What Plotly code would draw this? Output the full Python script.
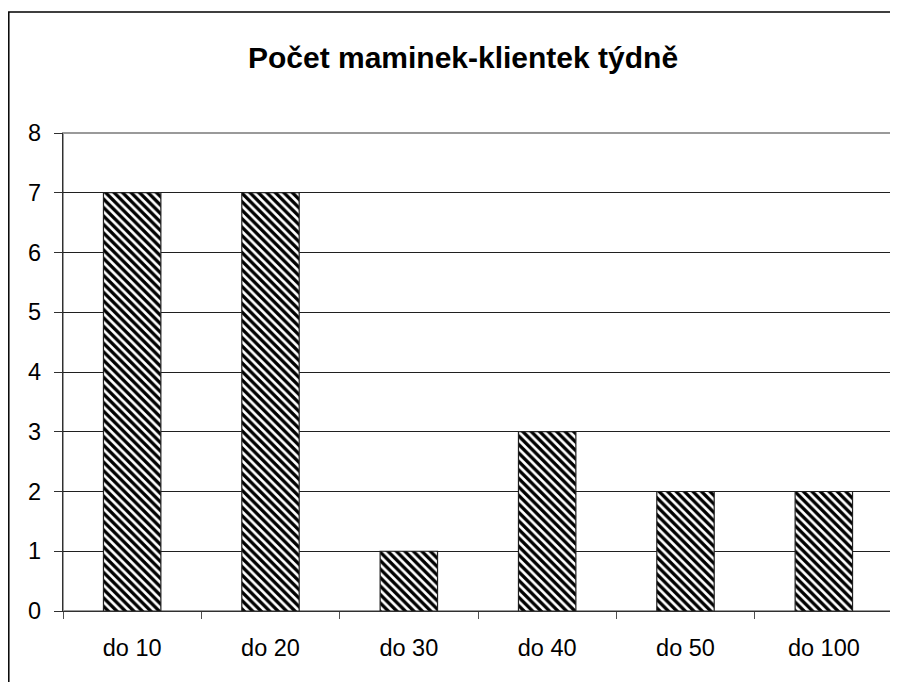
import plotly.graph_objects as go

# weekly client counts per size bracket
categories = ["do 10", "do 20", "do 30", "do 40", "do 50", "do 100"]
counts = [7, 7, 1, 3, 2, 2]
y_ticks = [0, 1, 2, 3, 4, 5, 6, 7, 8]

FONT = "Liberation Sans, Arial, sans-serif"

# page has an 8px body margin, so the figure is drawn 8px in from the corner
W, H = 890, 674
L, R, T, B = 55, 5, 125, 71
PW, PH = W - L - R, H - T - B

fig = go.Figure()

fig.add_bar(
    x=categories,
    y=counts,
    width=0.415,
    marker=dict(
        color="white",
        line=dict(color="#202020", width=1.2),
        pattern=dict(shape="\\", fgcolor="black", bgcolor="white",
                     size=6, solidity=0.55, fgopacity=1),
    ),
)

# plot-area frame (grey) and outer chart border (black)
fig.add_shape(type="rect", xref="paper", yref="paper", x0=0, y0=0, x1=1, y1=1,
              line=dict(color="#9a9a9a", width=2), layer="below")
fig.add_shape(type="rect", xref="paper", yref="paper",
              x0=(0.8 - L) / PW, y0=-0.4,
              x1=1.3, y1=1 + (T - 4) / PH,
              line=dict(color="black", width=1.5))

fig.update_layout(
    width=W,
    height=H,
    margin=dict(l=L, r=R, t=T, b=B),
    paper_bgcolor="white",
    plot_bgcolor="white",
    showlegend=False,
    font=dict(family=FONT, size=23.5, color="black"),
    title=dict(
        text="<b>Počet maminek-klientek týdně</b>",
        x=455 / W, xanchor="center", xref="container",
        y=1 - 49 / H, yanchor="middle",
        font=dict(family=FONT, size=30, color="black"),
    ),
    xaxis=dict(
        showline=True, linecolor="#303030", linewidth=1.3,
        ticks="outside", tickson="boundaries", ticklen=7,
        tickcolor="#505050", tickwidth=1.3,
        showgrid=False, ticklabelstandoff=16,
    ),
    yaxis=dict(
        range=[0, 8], tickvals=y_ticks,
        showline=True, linecolor="#303030", linewidth=1.3,
        ticks="outside", ticklen=8, tickcolor="#303030", tickwidth=1.3,
        showgrid=True, gridcolor="#202020", gridwidth=1,
        zeroline=False, ticklabelstandoff=8,
    ),
)

fig.write_html("out.html")
